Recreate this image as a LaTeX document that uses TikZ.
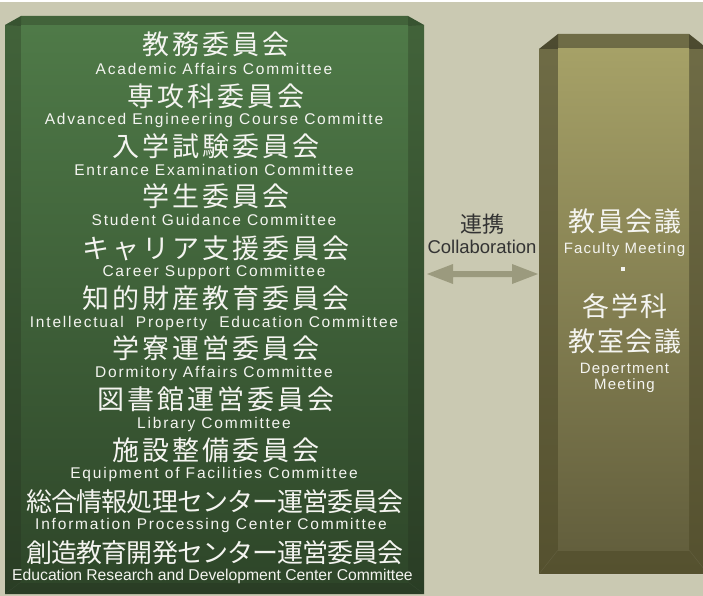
\documentclass[tikz,border=0pt]{standalone}
\usepackage{fontspec}
\newfontfamily\jp{Noto Sans CJK JP}
\newfontfamily\en{Liberation Sans}
\definecolor{bgc}{HTML}{CAC9B2}
\definecolor{lfTop}{HTML}{42633A}
\definecolor{lfBot}{HTML}{2A3D25}
\definecolor{lnTop}{HTML}{4F7A48}
\definecolor{lnBot}{HTML}{2E4629}
\definecolor{rfTop}{HTML}{6F6C46}
\definecolor{rfBot}{HTML}{55512F}
\definecolor{rnTop}{HTML}{A6A167}
\definecolor{rnBot}{HTML}{635F3D}
\definecolor{arrc}{HTML}{9B9A7E}
\definecolor{txt}{HTML}{F4F4F0}
\definecolor{dtxt}{HTML}{333333}
\tikzset{
  jpt/.style={font=\jp\fontsize{27}{27}\selectfont\addfontfeature{LetterSpace=11}, text=txt, inner sep=0pt, anchor=center},
  jplong/.style={font=\jp\fontsize{26}{26}\selectfont\addfontfeature{LetterSpace=-3.8}, text=txt, inner sep=0pt, anchor=center},
  ent/.style={font=\en\fontsize{15.5}{15.5}\selectfont\addfontfeature{LetterSpace=11.6}, text=txt, inner sep=0pt, anchor=base},
  entplain/.style={font=\en\fontsize{15.7}{15.7}\selectfont, text=txt, inner sep=0pt, anchor=base},
  rjp/.style={font=\jp\fontsize{27}{27}\selectfont\addfontfeature{LetterSpace=7}, text=txt, inner sep=0pt, anchor=center},
  ren/.style={font=\en\fontsize{15}{15}\selectfont\addfontfeature{LetterSpace=8}, text=txt, inner sep=0pt, anchor=base},
  cjp/.style={font=\jp\fontsize{22}{22}\selectfont, text=dtxt, inner sep=0pt, anchor=center},
  cen/.style={font=\en\fontsize{18.5}{18.5}\selectfont, text=dtxt, inner sep=0pt, anchor=base},
}
\begin{document}
\begin{tikzpicture}[x=1pt,y=-1pt]
\useasboundingbox (0,0) rectangle (703,596);
\fill[bgc] (0,0) rectangle (703,596);
\fill[white] (0,0) rectangle (703,2.5);

% left board
\shade[top color=lfTop, bottom color=lfBot] (5,25) -- (21,16) -- (408,16) -- (424,25) -- (424,594) -- (5,594) -- cycle;
\fill[black, opacity=0.15] (5,25) -- (21,16) -- (21,26) -- cycle;
\fill[black, opacity=0.15] (408,16) -- (424,25) -- (408,26) -- cycle;
\shade[top color=lnTop, bottom color=lnBot] (21,26) rectangle (408,582);
\draw[white, opacity=0.05] (21,582) -- (5,594) (408,582) -- (424,594);

% right board
\shade[top color=rfTop, bottom color=rfBot] (539,49) -- (558,34) -- (689,34) -- (708,49) -- (708,574) -- (539,574) -- cycle;
\fill[black, opacity=0.3] (539,49) -- (558,34) -- (558,49) -- cycle;
\fill[black, opacity=0.3] (689,34) -- (708,49) -- (689,49) -- cycle;
\shade[top color=rnTop, bottom color=rnBot] (558,49) rectangle (689,550);
\draw[white, opacity=0.08] (558,550) -- (539,574) (689,550) -- (708,574);
\draw[white, opacity=0.25, line width=0.8pt] (539,574) -- (708,574);

% left texts
\node[jpt] (j1) at (216,44.5) {教務委員会};
\node[ent] (e1) at (214,74.5) {Academic Affairs Committee};
\node[jpt] (j2) at (216,96) {専攻科委員会};
\node[ent] (e2) at (214,124.5) {Advanced Engineering Course Committe};
\node[jpt] (j3) at (216,146) {入学試験委員会};
\node[ent] (e3) at (214,175.5) {Entrance Examination Committee};
\node[jpt] (j4) at (216,196.5) {学生委員会};
\node[ent] (e4) at (214,225.5) {Student Guidance Committee};
\node[jpt] (j5) at (216,248) {キャリア支援委員会};
\node[ent] (e5) at (214,276.5) {Career Support Committee};
\node[jpt] (j6) at (216,298) {知的財産教育委員会};
\node[ent] (e6) at (214,327.5) {Intellectual\ \ Property\ \ Education Committee};
\node[jpt] (j7) at (216,348.5) {学寮運営委員会};
\node[ent] (e7) at (214,377.5) {Dormitory Affairs Committee};
\node[jpt] (j8) at (216,399) {図書館運営委員会};
\node[ent] (e8) at (214,428.5) {Library Committee};
\node[jpt] (j9) at (216,450) {施設整備委員会};
\node[ent] (e9) at (214,478.5) {Equipment of Facilities Committee};
\node[jplong] (j10) at (215,501.5) {総合情報処理センター運営委員会};
\node[ent] (e10) at (211,529.5) {Information Processing Center Committee};
\node[jplong] (j11) at (215,553) {創造教育開発センター運営委員会};
\node[entplain] (e11) at (212.5,580.5) {Education Research and Development Center Committee};

% collaboration
\node[cjp] (cj) at (482,224) {連携};
\node[cen] (ce) at (482,253) {Collaboration};
\fill[arrc] (427,274) -- (453,264) -- (453,271) -- (512,271) -- (512,264) -- (538,274) -- (512,284) -- (512,277) -- (453,277) -- (453,284) -- cycle;

% right texts
\node[rjp] (r1) at (625,221) {教員会議};
\node[ren] (r2) at (624.5,253) {Faculty Meeting};
\fill[txt] (621,267) rectangle (625,271);
\node[rjp] (r3) at (625,306) {各学科};
\node[rjp] (r4) at (625,341.5) {教室会議};
\node[ren] (r5) at (624.5,373) {Depertment};
\node[ren] (r6) at (624.5,389) {Meeting};
\end{tikzpicture}
\end{document}
